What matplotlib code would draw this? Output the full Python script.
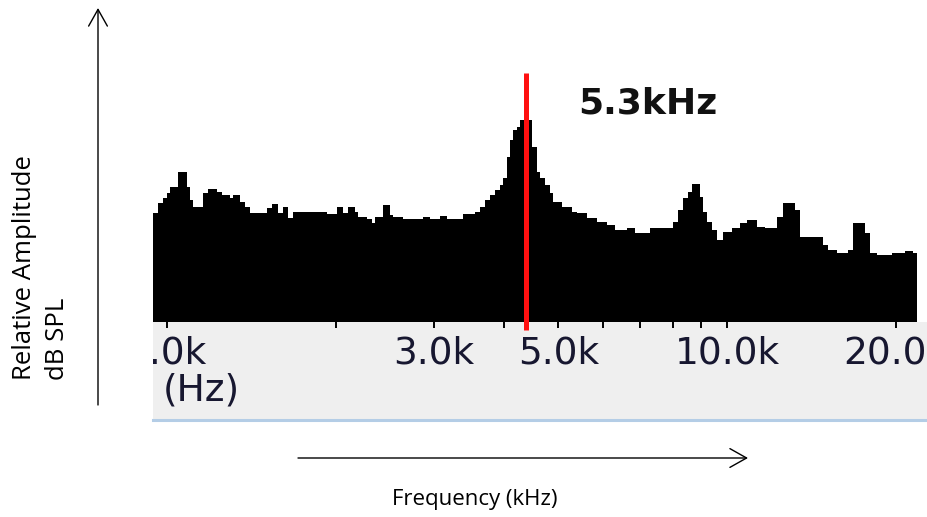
import numpy as np
import matplotlib
matplotlib.use("Agg")
import matplotlib.pyplot as plt
from matplotlib.patches import FancyArrowPatch
from matplotlib.ticker import NullLocator

# Spectrum: bin edges (kHz) and relative level of each bin (dB)
edges_khz = np.array([
    0.945, 0.965, 0.985, 0.999, 1.012, 1.048, 1.084, 1.099, 1.114, 1.161,
    1.185, 1.227, 1.252, 1.296, 1.313, 1.350, 1.378, 1.407, 1.507, 1.538,
    1.580, 1.613, 1.647, 1.681, 1.929, 2.009, 2.064, 2.107, 2.166, 2.196,
    2.273, 2.320, 2.352, 2.434, 2.502, 2.536, 2.642, 2.869, 2.949, 3.073,
    3.158, 3.381, 3.548, 3.622, 3.698, 3.774, 3.852, 3.932, 3.986, 4.043,
    4.098, 4.154, 4.213, 4.270, 4.480, 4.573, 4.636, 4.732, 4.830, 4.896,
    5.068, 5.282, 5.391, 5.618, 5.853, 6.099, 6.310, 6.620, 6.850, 7.290,
    8.017, 8.185, 8.356, 8.530, 8.650, 8.951, 9.073, 9.199, 9.391, 9.585,
    9.849, 10.19, 10.55, 10.84, 11.30, 11.69, 12.27, 12.60, 13.23, 13.50,
    14.86, 15.17, 15.70, 16.47, 16.81, 17.64, 18.00, 18.51, 19.69, 20.79,
    21.51, 21.82,
])
level_db = np.array([
    27.3, 29.8, 31.0, 32.3, 33.8, 37.5, 33.8, 30.5, 28.8, 32.3,
    33.3, 32.5, 31.8, 31.0, 31.8, 30.0, 28.8, 27.3, 28.5, 29.5,
    27.3, 28.8, 26.0, 27.5, 27.0, 28.8, 27.3, 28.8, 27.5, 26.3,
    25.8, 24.8, 26.3, 29.3, 26.8, 26.3, 25.8, 26.3, 25.8, 26.5,
    25.8, 27.0, 27.5, 28.8, 30.5, 31.8, 33.0, 34.3, 36.0, 41.3,
    45.5, 48.0, 48.8, 50.5, 43.8, 37.5, 36.0, 34.3, 32.3, 30.0,
    28.8, 27.5, 27.3, 26.0, 25.0, 24.3, 23.0, 23.5, 22.3, 23.5,
    25.0, 28.0, 31.0, 32.5, 34.5, 31.3, 27.5, 25.0, 23.0, 20.5,
    22.5, 23.5, 24.8, 25.5, 23.8, 23.5, 26.3, 29.8, 28.0, 21.3,
    19.3, 18.0, 17.3, 18.0, 24.8, 22.3, 17.3, 16.8, 17.3, 17.8,
    17.3,
])
tick_khz = [1, 2, 3, 4, 5, 6, 7, 8, 9, 10, 20]
tick_labels = ["1.0k", "", "3.0k", "", "5.0k", "", "", "", "", "10.0k", "20.0k"]
peak_label = "5.3kHz"
y_label = "Relative Amplitude\ndB SPL"
x_label = "Frequency (kHz)"
unit_label = "(Hz)"

W, H = 927, 517
fig = plt.figure(figsize=(W / 100, H / 100), dpi=100)
fig.patch.set_facecolor("white")


def px_rect(x0, y0, x1, y1):
    return [x0 / W, 1 - y1 / H, (x1 - x0) / W, (y1 - y0) / H]


def fx(x):
    return x / W


def fy(y):
    return 1 - y / H


label_color = "#171730"

# grey frequency ruler underneath the spectrum
band = fig.add_axes(px_rect(153, 322, 927, 420))
band.set_facecolor("#efefef")
band.set_xticks([])
band.set_yticks([])
for side in ("top", "left", "right"):
    band.spines[side].set_visible(False)
band.spines["bottom"].set_color("#b4cde6")
band.spines["bottom"].set_linewidth(2.2)

# spectrum panel
ax = fig.add_axes(px_rect(153, 60, 917, 322))
ax.set_facecolor("none")
ax.set_xscale("log")
ax.set_xlim(0.9443, 21.84)
ax.set_ylim(0, 65.5)
for s in ax.spines.values():
    s.set_visible(False)
ax.set_yticks([])
ax.stairs(level_db, edges_khz, fill=True, color="black", baseline=0)

ax.xaxis.set_minor_locator(NullLocator())
ax.set_xticks(tick_khz, tick_labels)
ax.tick_params(axis="x", direction="out", length=4.3, width=1.4, color="black",
               labelsize=27, labelcolor=label_color, pad=5.5)
for lbl in ax.get_xticklabels():
    lbl.set_family("DejaVu Sans")
    lbl.set_clip_box(band.bbox)
    lbl.set_clip_on(True)

# red marker at the resonance peak
i_peak = int(np.argmax(level_db))
peak_khz = float(np.sqrt(edges_khz[i_peak] * edges_khz[i_peak + 1]))
ax.plot([peak_khz, peak_khz], [-2, 62.25], color="#ff1010", lw=3.6,
        solid_capstyle="butt", clip_on=False, zorder=5)

fig.text(fx(578), fy(113), peak_label, fontsize=26, fontweight="bold",
         family="DejaVu Sans", va="baseline", ha="left", color="#111111")
fig.text(fx(163), fy(400), unit_label, fontsize=27, family="DejaVu Sans",
         va="baseline", ha="left", color=label_color)

# axis arrows and captions
arrow_kw = dict(transform=fig.transFigure, arrowstyle="->,head_length=0.8,head_width=0.45",
                mutation_scale=15, lw=1.0, color="black", shrinkA=0, shrinkB=0)
fig.add_artist(FancyArrowPatch((fx(98), fy(405)), (fx(98), fy(8)), **arrow_kw))
fig.add_artist(FancyArrowPatch((fx(298), fy(458)), (fx(748), fy(458)), **arrow_kw))

fig.text(fx(41), fy(380), y_label, rotation=90, ha="center", va="bottom",
         multialignment="left", fontsize=18.5, family="Open Sans", linespacing=1.4)
fig.text(fx(475), fy(500), x_label, ha="center", va="center", fontsize=16,
         family="Open Sans")

fig.savefig("out.png", dpi=100)
